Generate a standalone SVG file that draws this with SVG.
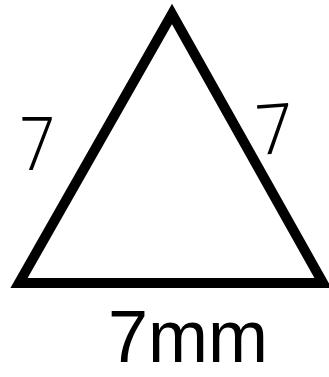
<svg xmlns="http://www.w3.org/2000/svg" width="329" height="377" viewBox="0 0 329 377">
<style>
.thin{font-family:Roboto,Inter,Lato,"DejaVu Sans",sans-serif;font-weight:300;fill:#000}
.bold{font-family:"Liberation Sans",Arial,sans-serif;font-weight:400;fill:#000}
</style>
<rect width="329" height="377" fill="#fff"/>
<g id="triangle">
<path d="M172 14 L323 283 L19 283 Z" fill="none" stroke="#000" stroke-width="10" stroke-linejoin="miter" stroke-miterlimit="10"/>
</g>
<g id="label-left">
<text class="thin" transform="translate(20 170) scale(0.85 1)" font-size="74">7</text>
</g>
<g id="label-right">
<text class="thin" transform="translate(258 155) rotate(-4) scale(0.95 1)" font-size="70">7</text>
</g>
<g id="label-bottom">
<text class="bold" x="108" y="362" font-size="75" textLength="160" lengthAdjust="spacingAndGlyphs">7mm</text>
</g>
</svg>
